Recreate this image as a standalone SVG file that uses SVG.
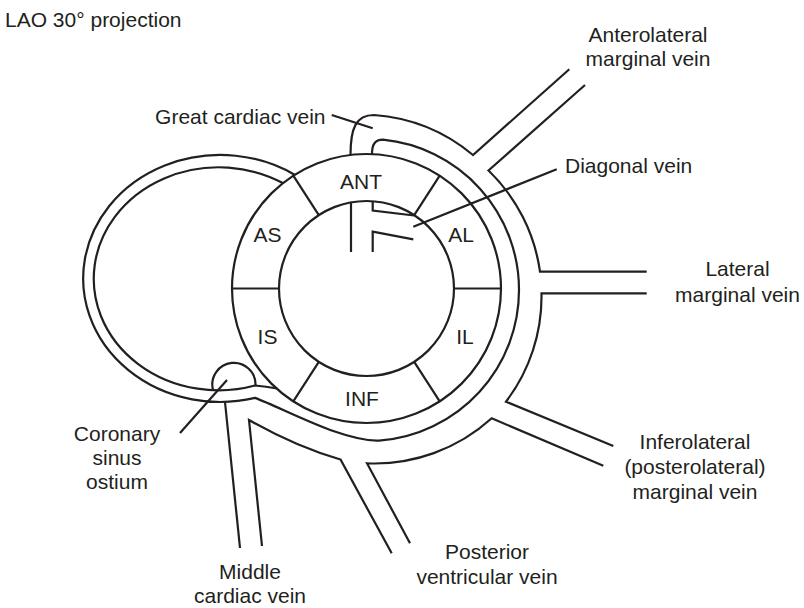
<svg xmlns="http://www.w3.org/2000/svg" width="804" height="608" viewBox="0 0 804 608">
  <style>
    .ln { fill: none; stroke: #231f20; stroke-width: 2.2; stroke-linejoin: miter; stroke-miterlimit: 8; }
    .t { font-family: "Liberation Sans", Arial, Helvetica, sans-serif; font-size: 21px; fill: #231f20; }
    .m { text-anchor: middle; }
  </style>
  <rect width="804" height="608" fill="#ffffff"/>

  <text class="t" x="5" y="27">LAO 30° projection</text>

  <!-- Short-axis ring of the left ventricle with six segments -->
  <g id="ring" class="ln">
    <circle cx="366.5" cy="288.5" r="134.5"/>
    <circle cx="366.5" cy="288.5" r="87.5"/>
    <path d="M232 288.5H279 M454 288.5H501 M293.3 175.7L318.8 215.1 M439.7 175.7L414.2 215.1 M293.3 401.3L318.8 361.9 M439.7 401.3L414.2 361.9"/>
  </g>
  <g id="seg-ANT"><text class="t m" x="361" y="189">ANT</text></g>
  <g id="seg-AS"><text class="t m" x="267.5" y="242">AS</text></g>
  <g id="seg-AL"><text class="t m" x="461" y="242">AL</text></g>
  <g id="seg-IS"><text class="t m" x="267.5" y="344">IS</text></g>
  <g id="seg-IL"><text class="t m" x="465" y="344">IL</text></g>
  <g id="seg-INF"><text class="t m" x="362" y="405.5">INF</text></g>

  <!-- Anterior interventricular vein and diagonal branch inside the cavity -->
  <g id="diagonal-vein" class="ln">
    <path d="M351 202.5V252"/>
    <path d="M372.7 201.3V210.5L414 215.5"/>
    <path d="M372.7 252V231.7L413.3 239.3"/>
  </g>

  <!-- Coronary sinus / great cardiac vein tube and its tributaries -->
  <g id="veins" class="ln">
    <!-- outer wall, split by the branches -->
    <path id="great-cardiac-vein" d="M350.5 155C350.5 128 356 115 374 115A174 174 0 0 1 473 155L569.3 69.3"/>
    <path id="anterolateral-marginal-vein" d="M585 85L488.5 170.5A174 174 0 0 1 540 271.7H646.7"/>
    <path id="lateral-marginal-vein" d="M646.7 293.3H541.5A174 174 0 0 1 506 401.7L613.3 446"/>
    <path id="inferolateral-marginal-vein" d="M603.3 465.7L491.7 418.3A174 174 0 0 1 367 463.3L410 543.3"/>
    <path id="posterior-ventricular-vein" d="M391.7 553.3L340.5 459.5C300 448 270 432 249 420L262 546"/>
    <!-- inner wall, continuing into the outer edge of the left loop -->
    <path id="coronary-sinus" d="M295 175A137 123.5 0 1 0 255 397.9C285 409 346 443.4 381.2 440.4A151 151 0 0 0 519 290A151 151 0 0 0 383 139.7C375 140 372 144 372 154"/>
    <!-- inner edge of the left loop -->
    <path id="loop-inner" d="M283.3 183.3A125 111.5 0 1 0 255 385.5Q266 386.5 277 388.5"/>
    <!-- middle cardiac vein, left wall -->
    <path id="middle-cardiac-vein" d="M225 402L240 548"/>
    <!-- coronary sinus ostium -->
    <path id="ostium" d="M213 389.8A21.6 21.6 0 1 1 255.5 385.4"/>
  </g>

  <!-- Label leader lines -->
  <g id="connectors" class="ln">
    <path d="M331.7 115L372.7 128.3"/>
    <path d="M556.7 169.3L413.3 226.7"/>
    <path d="M180 433L227 380"/>
  </g>

  <!-- Labels -->
  <g id="labels">
    <g id="lbl-anterolateral">
      <text class="t m" x="648" y="42">Anterolateral</text>
      <text class="t m" x="648" y="66">marginal vein</text>
    </g>
    <g id="lbl-great-cardiac"><text class="t" x="325.5" y="124" text-anchor="end">Great cardiac vein</text></g>
    <g id="lbl-diagonal"><text class="t" x="565" y="173">Diagonal vein</text></g>
    <g id="lbl-lateral">
      <text class="t m" x="737.5" y="276">Lateral</text>
      <text class="t m" x="737.5" y="301.5">marginal vein</text>
    </g>
    <g id="lbl-inferolateral">
      <text class="t m" x="695" y="449">Inferolateral</text>
      <text class="t m" x="695" y="474">(posterolateral)</text>
      <text class="t m" x="695" y="499">marginal vein</text>
    </g>
    <g id="lbl-posterior">
      <text class="t m" x="487" y="559">Posterior</text>
      <text class="t m" x="487" y="584">ventricular vein</text>
    </g>
    <g id="lbl-middle">
      <text class="t m" x="250" y="579">Middle</text>
      <text class="t m" x="250" y="603">cardiac vein</text>
    </g>
    <g id="lbl-ostium">
      <text class="t m" x="117" y="441">Coronary</text>
      <text class="t m" x="117" y="465">sinus</text>
      <text class="t m" x="117" y="489">ostium</text>
    </g>
  </g>
</svg>
